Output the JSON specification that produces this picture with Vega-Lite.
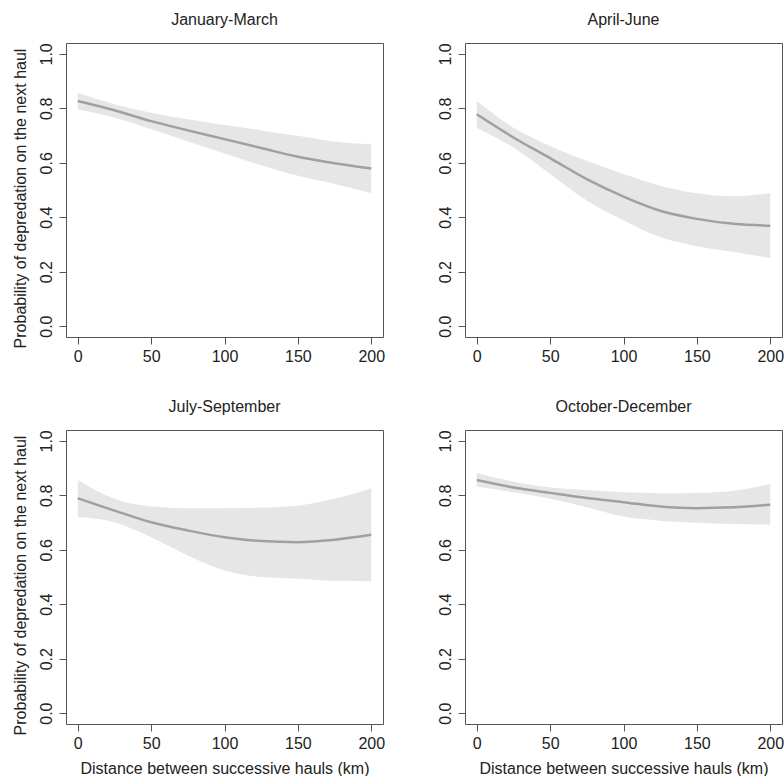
{
  "$schema": "https://vega.github.io/schema/vega-lite/v6.json",
  "background": "white",
  "padding": {"left": 11, "top": 11, "right": 0, "bottom": 0},
  "columns": 2,
  "bounds": "flush",
  "spacing": {"column": 82, "row": 93},
  "data": {
    "values": [
      {"period": "January-March", "km": 0, "fit": 0.827, "lo": 0.796, "hi": 0.857},
      {"period": "January-March", "km": 25, "fit": 0.793, "lo": 0.766, "hi": 0.815},
      {"period": "January-March", "km": 50, "fit": 0.753, "lo": 0.723, "hi": 0.784},
      {"period": "January-March", "km": 75, "fit": 0.719, "lo": 0.678, "hi": 0.760},
      {"period": "January-March", "km": 100, "fit": 0.687, "lo": 0.634, "hi": 0.739},
      {"period": "January-March", "km": 125, "fit": 0.654, "lo": 0.591, "hi": 0.719},
      {"period": "January-March", "km": 150, "fit": 0.622, "lo": 0.552, "hi": 0.699},
      {"period": "January-March", "km": 175, "fit": 0.598, "lo": 0.522, "hi": 0.678},
      {"period": "January-March", "km": 200, "fit": 0.579, "lo": 0.489, "hi": 0.668},
      {"period": "April-June", "km": 0, "fit": 0.778, "lo": 0.729, "hi": 0.827},
      {"period": "April-June", "km": 25, "fit": 0.693, "lo": 0.656, "hi": 0.729},
      {"period": "April-June", "km": 50, "fit": 0.617, "lo": 0.559, "hi": 0.662},
      {"period": "April-June", "km": 75, "fit": 0.540, "lo": 0.461, "hi": 0.607},
      {"period": "April-June", "km": 100, "fit": 0.476, "lo": 0.388, "hi": 0.559},
      {"period": "April-June", "km": 125, "fit": 0.424, "lo": 0.327, "hi": 0.516},
      {"period": "April-June", "km": 150, "fit": 0.394, "lo": 0.293, "hi": 0.488},
      {"period": "April-June", "km": 175, "fit": 0.376, "lo": 0.272, "hi": 0.477},
      {"period": "April-June", "km": 200, "fit": 0.369, "lo": 0.250, "hi": 0.488},
      {"period": "July-September", "km": 0, "fit": 0.789, "lo": 0.720, "hi": 0.856},
      {"period": "July-September", "km": 25, "fit": 0.744, "lo": 0.701, "hi": 0.787},
      {"period": "July-September", "km": 50, "fit": 0.701, "lo": 0.646, "hi": 0.759},
      {"period": "July-September", "km": 75, "fit": 0.671, "lo": 0.579, "hi": 0.753},
      {"period": "July-September", "km": 100, "fit": 0.646, "lo": 0.524, "hi": 0.753},
      {"period": "July-September", "km": 125, "fit": 0.632, "lo": 0.500, "hi": 0.755},
      {"period": "July-September", "km": 150, "fit": 0.628, "lo": 0.494, "hi": 0.762},
      {"period": "July-September", "km": 175, "fit": 0.637, "lo": 0.486, "hi": 0.787},
      {"period": "July-September", "km": 200, "fit": 0.655, "lo": 0.484, "hi": 0.826},
      {"period": "October-December", "km": 0, "fit": 0.856, "lo": 0.832, "hi": 0.882},
      {"period": "October-December", "km": 25, "fit": 0.829, "lo": 0.811, "hi": 0.850},
      {"period": "October-December", "km": 50, "fit": 0.809, "lo": 0.787, "hi": 0.829},
      {"period": "October-December", "km": 75, "fit": 0.790, "lo": 0.756, "hi": 0.820},
      {"period": "October-December", "km": 100, "fit": 0.775, "lo": 0.722, "hi": 0.811},
      {"period": "October-December", "km": 125, "fit": 0.759, "lo": 0.707, "hi": 0.808},
      {"period": "October-December", "km": 150, "fit": 0.753, "lo": 0.699, "hi": 0.809},
      {"period": "October-December", "km": 175, "fit": 0.756, "lo": 0.695, "hi": 0.817},
      {"period": "October-December", "km": 200, "fit": 0.765, "lo": 0.692, "hi": 0.841}
    ]
  },
  "concat": [
    {
      "title": "January-March",
      "width": 317, "height": 294,
      "transform": [{"filter": "datum.period === 'January-March'"}],
      "encoding": {
        "x": {"field": "km", "type": "quantitative", "scale": {"domain": [-8, 208], "nice": false, "zero": false}, "axis": {"title": null, "values": [0, 50, 100, 150, 200]}}
      },
      "layer": [
        {"mark": {"type": "area", "color": "#e6e6e6", "interpolate": "monotone"},
         "encoding": {"y": {"field": "lo", "type": "quantitative", "scale": {"domain": [-0.04, 1.04], "nice": false, "zero": false}, "axis": {"title": "Probability of depredation on the next haul", "values": [0, 0.2, 0.4, 0.6, 0.8, 1], "format": ".1f"}}, "y2": {"field": "hi"}}},
        {"mark": {"type": "line", "color": "#a0a0a0", "strokeWidth": 2.5, "interpolate": "monotone"},
         "encoding": {"y": {"field": "fit", "type": "quantitative"}}}
      ]
    },
    {
      "title": "April-June",
      "width": 317, "height": 294,
      "transform": [{"filter": "datum.period === 'April-June'"}],
      "encoding": {
        "x": {"field": "km", "type": "quantitative", "scale": {"domain": [-8, 208], "nice": false, "zero": false}, "axis": {"title": null, "values": [0, 50, 100, 150, 200]}}
      },
      "layer": [
        {"mark": {"type": "area", "color": "#e6e6e6", "interpolate": "monotone"},
         "encoding": {"y": {"field": "lo", "type": "quantitative", "scale": {"domain": [-0.04, 1.04], "nice": false, "zero": false}, "axis": {"title": null, "values": [0, 0.2, 0.4, 0.6, 0.8, 1], "format": ".1f"}}, "y2": {"field": "hi"}}},
        {"mark": {"type": "line", "color": "#a0a0a0", "strokeWidth": 2.5, "interpolate": "monotone"},
         "encoding": {"y": {"field": "fit", "type": "quantitative"}}}
      ]
    },
    {
      "title": "July-September",
      "width": 317, "height": 294,
      "transform": [{"filter": "datum.period === 'July-September'"}],
      "encoding": {
        "x": {"field": "km", "type": "quantitative", "scale": {"domain": [-8, 208], "nice": false, "zero": false}, "axis": {"title": "Distance between successive hauls (km)", "values": [0, 50, 100, 150, 200]}}
      },
      "layer": [
        {"mark": {"type": "area", "color": "#e6e6e6", "interpolate": "monotone"},
         "encoding": {"y": {"field": "lo", "type": "quantitative", "scale": {"domain": [-0.04, 1.04], "nice": false, "zero": false}, "axis": {"title": "Probability of depredation on the next haul", "values": [0, 0.2, 0.4, 0.6, 0.8, 1], "format": ".1f"}}, "y2": {"field": "hi"}}},
        {"mark": {"type": "line", "color": "#a0a0a0", "strokeWidth": 2.5, "interpolate": "monotone"},
         "encoding": {"y": {"field": "fit", "type": "quantitative"}}}
      ]
    },
    {
      "title": "October-December",
      "width": 317, "height": 294,
      "transform": [{"filter": "datum.period === 'October-December'"}],
      "encoding": {
        "x": {"field": "km", "type": "quantitative", "scale": {"domain": [-8, 208], "nice": false, "zero": false}, "axis": {"title": "Distance between successive hauls (km)", "values": [0, 50, 100, 150, 200]}}
      },
      "layer": [
        {"mark": {"type": "area", "color": "#e6e6e6", "interpolate": "monotone"},
         "encoding": {"y": {"field": "lo", "type": "quantitative", "scale": {"domain": [-0.04, 1.04], "nice": false, "zero": false}, "axis": {"title": null, "values": [0, 0.2, 0.4, 0.6, 0.8, 1], "format": ".1f"}}, "y2": {"field": "hi"}}},
        {"mark": {"type": "line", "color": "#a0a0a0", "strokeWidth": 2.5, "interpolate": "monotone"},
         "encoding": {"y": {"field": "fit", "type": "quantitative"}}}
      ]
    }
  ],
  "config": {
    "font": "Liberation Sans",
    "view": {"stroke": "#555555", "strokeWidth": 1},
    "title": {"fontSize": 16, "fontWeight": "normal", "color": "#222222", "font": "Liberation Sans", "baseline": "alphabetic", "offset": 15, "frame": "group", "anchor": "middle"},
    "axis": {
      "domain": false, "grid": false, "ticks": true, "tickSize": 7, "tickColor": "#555555", "tickWidth": 1,
      "labelFont": "Liberation Sans", "labelFontSize": 16, "labelColor": "#222222", "labelOverlap": false, "labelFlush": false,
      "titleFont": "Liberation Sans", "titleFontSize": 16, "titleFontWeight": "normal", "titleColor": "#222222"
    },
    "axisX": {
      "labelBaseline": "alphabetic", "labelPadding": 17,
      "titleBaseline": "alphabetic", "titleY": 49, "titleAlign": "center"
    },
    "axisY": {
      "labelAngle": 270, "labelAlign": "center", "labelBaseline": "alphabetic", "labelPadding": 8,
      "titleAngle": 270, "titleBaseline": "alphabetic", "titleAlign": "center", "titleX": -41, "titleY": 155
    }
  }
}
